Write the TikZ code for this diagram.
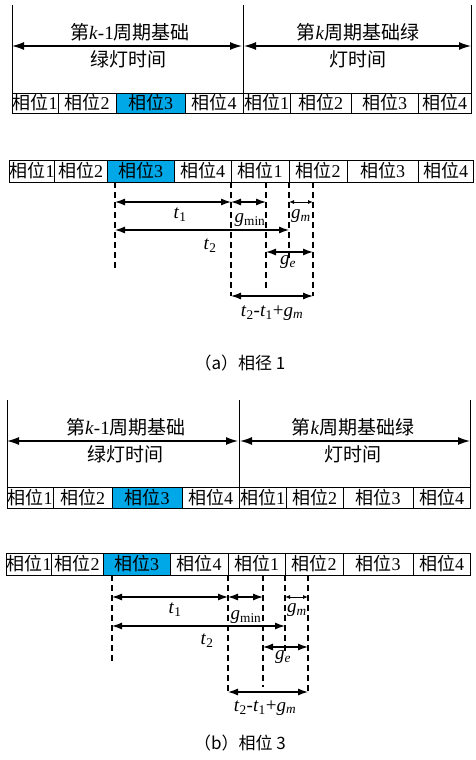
\documentclass[tikz,border=0pt]{standalone}
\usepackage{fontspec}
\setmainfont{Liberation Serif}
\newfontfamily\cjk{Noto Sans CJK SC}
\usetikzlibrary{arrows.meta}
\definecolor{hlblue}{RGB}{0,168,232}
\tikzset{
  cell/.style={draw, line width=1pt, inner sep=0pt, anchor=center, font=\fontsize{18}{18}\selectfont},
  hl/.style={fill=hlblue},
  vline/.style={line width=0.9pt},
  dim/.style={{Latex[length=10pt,width=7pt]}-{Latex[length=10pt,width=7pt]}, line width=1.2pt},
  sdim/.style={{Latex[length=5pt,width=4pt]}-{Latex[length=5pt,width=4pt]}, line width=0.9pt},
  bigarrow/.style={{Latex[length=12pt,width=8pt]}-{Latex[length=12pt,width=8pt]}, line width=1.3pt},
  dline/.style={dash pattern=on 6pt off 4pt, line width=1.4pt},
  head/.style={font=\fontsize{19}{19}\selectfont},
  lab/.style={font=\fontsize{19}{19}\selectfont, inner sep=0pt},
  captxt/.style={font=\fontsize{17}{17}\selectfont\cjk}
}
\newcommand{\xw}[1]{{\cjk 相位}#1}
\begin{document}
\begin{tikzpicture}[x=1pt,y=-1pt]
\useasboundingbox (0,0) rectangle (475,760);
% ================= panel (a) =================
\coordinate (aL0) at (12,5); \coordinate (aL1) at (12,93);
\coordinate (aM0) at (243,5); \coordinate (aM1) at (243,93);
\coordinate (aR0) at (471,5); \coordinate (aR1) at (471,93);
\draw[vline] (aL0) -- (aL1);
\draw[vline] (aM0) -- (aM1);
\draw[vline] (aR0) -- (aR1);
\coordinate (aA0) at (12,46); \coordinate (aA1) at (242,46);
\coordinate (aA2) at (244,46); \coordinate (aA3) at (471,46);
\draw[bigarrow] (aA0) -- (aA1);
\draw[bigarrow] (aA2) -- (aA3);
\node[head] (ah1) at (130,32) {{\cjk 第}\textit{k}-1{\cjk 周期基础}};
\node[head] (ah2) at (128,59) {\cjk 绿灯时间};
\node[head] (ah3) at (358,32) {{\cjk 第}\textit{k}{\cjk 周期基础绿}};
\node[head] (ah4) at (358,59) {\cjk 灯时间};
% bar 1
\foreach \n/\l/\r/\t/\s in {1/12/58/1/, 2/58/116/2/, 3/116/185/3/hl, 4/185/243/4/,
  5/243/290/1/, 6/290/351/2/, 7/351/418/3/, 8/418/471/4/}
  \node[cell,\s, minimum width={(\r-\l)*1pt}, minimum height=20pt] (ab\n) at ({(\l+\r)/2},103) {\xw{\t}};
% bar 2
\foreach \n/\l/\r/\t/\s in {1/10/54/1/, 2/54/107/2/, 3/107/174/3/hl, 4/174/231/4/,
  5/231/289/1/, 6/289/347/2/, 7/347/418/3/, 8/418/473/4/}
  \node[cell,\s, minimum width={(\r-\l)*1pt}, minimum height=22pt] (ac\n) at ({(\l+\r)/2},171) {\xw{\t}};
% dashed guide lines
\coordinate (ad1a) at (115,182); \coordinate (ad1b) at (115,268);
\coordinate (ad2a) at (231,182); \coordinate (ad2b) at (231,296);
\coordinate (ad3a) at (266,182); \coordinate (ad3b) at (266,290);
\coordinate (ad4a) at (289,182); \coordinate (ad4b) at (289,260);
\coordinate (ad5a) at (313,182); \coordinate (ad5b) at (313,296);
\draw[dline] (ad1a) -- (ad1b);
\draw[dline] (ad2a) -- (ad2b);
\draw[dline] (ad3a) -- (ad3b);
\draw[dline] (ad4a) -- (ad4b);
\draw[dline] (ad5a) -- (ad5b);
% dimension arrows
\draw[dim] (115,202) coordinate (at1a) -- (231,202) coordinate (at1b);
\draw[dim] (231,202) coordinate (aga) -- (266,202) coordinate (agb);
\draw[sdim] (289,202) coordinate (ama) -- (313,202) coordinate (amb);
\draw[dim] (115,230) coordinate (at2a) -- (289,230) coordinate (at2b);
\draw[dim] (266,252) coordinate (aea) -- (313,252) coordinate (aeb);
\draw[dim] (231,296) coordinate (ata) -- (313,296) coordinate (atb);
\node[lab] (alt1) at (180,215) {\textit{t}\textsubscript{1}};
\node[lab] (algmin) at (250,220) {\textit{g}\textsubscript{min}};
\node[lab] (algm) at (301,216) {\textit{g}\textsubscript{\textit{m}}};
\node[lab] (alt2) at (210,246) {\textit{t}\textsubscript{2}};
\node[lab] (alge) at (288,262) {\textit{g}\textsubscript{\textit{e}}};
\node[lab] (altot) at (272,313) {\textit{t}\textsubscript{2}-\textit{t}\textsubscript{1}+\textit{g}\textsubscript{\textit{m}}};
\node[captxt] (acap) at (240,363) {（a）相径 1};
% ================= panel (b) =================
\coordinate (bL0) at (7,400); \coordinate (bL1) at (7,487);
\coordinate (bM0) at (239,400); \coordinate (bM1) at (239,487);
\coordinate (bR0) at (470,400); \coordinate (bR1) at (470,487);
\draw[vline] (bL0) -- (bL1);
\draw[vline] (bM0) -- (bM1);
\draw[vline] (bR0) -- (bR1);
\coordinate (bA0) at (7,441); \coordinate (bA1) at (238,441);
\coordinate (bA2) at (240,441); \coordinate (bA3) at (470,441);
\draw[bigarrow] (bA0) -- (bA1);
\draw[bigarrow] (bA2) -- (bA3);
\node[head] (bh1) at (126,427) {{\cjk 第}\textit{k}-1{\cjk 周期基础}};
\node[head] (bh2) at (125,454) {\cjk 绿灯时间};
\node[head] (bh3) at (353,427) {{\cjk 第}\textit{k}{\cjk 周期基础绿}};
\node[head] (bh4) at (353,454) {\cjk 灯时间};
\foreach \n/\l/\r/\t/\s in {1/7/53/1/, 2/53/112/2/, 3/112/182/3/hl, 4/182/239/4/,
  5/239/286/1/, 6/286/343/2/, 7/343/413/3/, 8/413/470/4/}
  \node[cell,\s, minimum width={(\r-\l)*1pt}, minimum height=21pt] (bb\n) at ({(\l+\r)/2},497.5) {\xw{\t}};
\foreach \n/\l/\r/\t/\s in {1/7/51/1/, 2/51/103/2/, 3/103/170/3/hl, 4/170/228/4/,
  5/228/285/1/, 6/285/343/2/, 7/343/413/3/, 8/413/470/4/}
  \node[cell,\s, minimum width={(\r-\l)*1pt}, minimum height=22pt] (bc\n) at ({(\l+\r)/2},564) {\xw{\t}};
\coordinate (bd1a) at (112,575); \coordinate (bd1b) at (112,663);
\coordinate (bd2a) at (228,575); \coordinate (bd2b) at (228,692);
\coordinate (bd3a) at (263,575); \coordinate (bd3b) at (263,687);
\coordinate (bd4a) at (285,575); \coordinate (bd4b) at (285,655);
\coordinate (bd5a) at (308,575); \coordinate (bd5b) at (308,692);
\draw[dline] (bd1a) -- (bd1b);
\draw[dline] (bd2a) -- (bd2b);
\draw[dline] (bd3a) -- (bd3b);
\draw[dline] (bd4a) -- (bd4b);
\draw[dline] (bd5a) -- (bd5b);
\draw[dim] (112,597) coordinate (bt1a) -- (228,597) coordinate (bt1b);
\draw[dim] (228,597) coordinate (bga) -- (263,597) coordinate (bgb);
\draw[sdim] (285,597) coordinate (bma) -- (308,597) coordinate (bmb);
\draw[dim] (112,626) coordinate (bt2a) -- (285,626) coordinate (bt2b);
\draw[dim] (263,647) coordinate (bea) -- (308,647) coordinate (beb);
\draw[dim] (228,692) coordinate (bta) -- (308,692) coordinate (btb);
\node[lab] (blt1) at (175,610) {\textit{t}\textsubscript{1}};
\node[lab] (blgmin) at (246,617) {\textit{g}\textsubscript{min}};
\node[lab] (blgm) at (297,610) {\textit{g}\textsubscript{\textit{m}}};
\node[lab] (blt2) at (207,641) {\textit{t}\textsubscript{2}};
\node[lab] (blge) at (283,657) {\textit{g}\textsubscript{\textit{e}}};
\node[lab] (bltot) at (265,708) {\textit{t}\textsubscript{2}-\textit{t}\textsubscript{1}+\textit{g}\textsubscript{\textit{m}}};
\node[captxt] (bcap) at (240,743) {（b）相位 3};
\end{tikzpicture}
\end{document}
